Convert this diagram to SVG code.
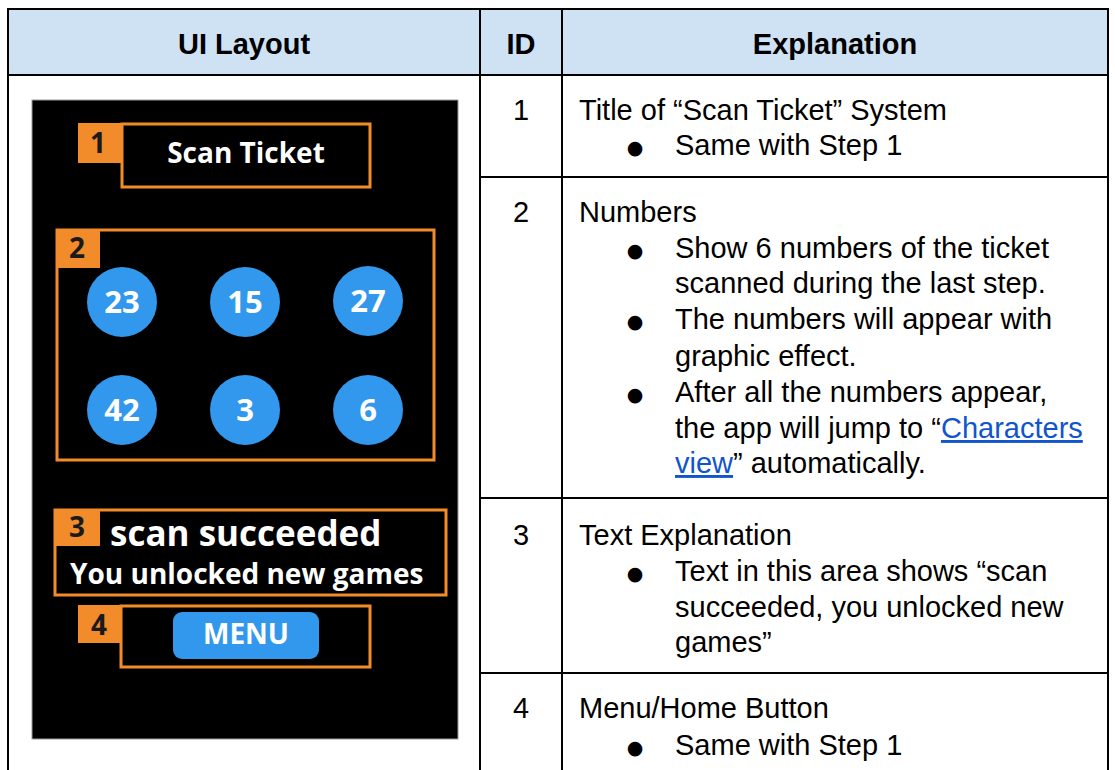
<svg xmlns="http://www.w3.org/2000/svg" width="1115" height="770" viewBox="0 0 1115 770">
<style>
.cell{font-family:"Liberation Sans",Arial,sans-serif;font-size:29px;fill:#000}
.hd{font-family:"Liberation Sans",Arial,sans-serif;font-size:29px;font-weight:bold;fill:#000;text-anchor:middle}
.id{text-anchor:middle}
.bul{font-family:"DejaVu Sans",sans-serif;font-size:19px;fill:#000;text-anchor:middle}
.link{fill:#1155cc;text-decoration:underline}
.ui{font-family:"Open Sans","DejaVu Sans",sans-serif;font-weight:bold;fill:#fff}
.lbl{fill:#f28b2a}
.lbltxt{font-family:"Open Sans","DejaVu Sans",sans-serif;font-weight:bold;font-size:28px;fill:#1a1a1a;text-anchor:middle}
.box{fill:none;stroke:#f28b2a;stroke-width:3}
.ball{fill:#3198ee}
.num{font-family:"Open Sans","DejaVu Sans",sans-serif;font-weight:bold;font-size:31px;fill:#fff;text-anchor:middle}
.grid{stroke:#000;stroke-width:2;fill:none}
</style>
<rect width="1115" height="770" fill="#fff"/>
<g id="table">
  <rect x="8" y="9" width="1100" height="66" fill="#cfe2f3"/>
  <path class="grid" d="M8,770 V9 H1108 V770 M8,75 H1108 M480,9 V770 M562,9 V770 M480,177 H1108 M480,498 H1108 M480,673 H1108"/>
  <text class="hd" x="244" y="54">UI Layout</text>
  <text class="hd" x="521" y="54">ID</text>
  <text class="hd" x="835" y="54">Explanation</text>
</g>
<g id="panel">
  <rect x="32" y="100" width="426" height="639" fill="#000" stroke="#9a9a9a" stroke-width="1"/>
</g>
<g id="ui-1">
  <rect class="box" x="122" y="124" width="248" height="63"/>
  <rect class="lbl" x="78" y="123" width="44" height="40"/>
  <text class="lbltxt" x="98" y="153">1</text>
  <text class="ui" x="246" y="163" font-size="28" text-anchor="middle">Scan Ticket</text>
</g>
<g id="ui-2">
  <rect class="box" x="57" y="230" width="377" height="230"/>
  <rect class="lbl" x="56" y="229" width="44" height="39"/>
  <text class="lbltxt" x="77" y="258">2</text>
  <circle class="ball" cx="122" cy="302" r="35"/>
  <circle class="ball" cx="245" cy="302" r="35"/>
  <circle class="ball" cx="368" cy="301" r="35"/>
  <circle class="ball" cx="122" cy="410" r="35"/>
  <circle class="ball" cx="245" cy="410" r="35"/>
  <circle class="ball" cx="368" cy="410" r="35"/>
  <text class="num" x="122" y="313">23</text>
  <text class="num" x="245" y="313">15</text>
  <text class="num" x="368" y="312">27</text>
  <text class="num" x="122" y="421">42</text>
  <text class="num" x="245" y="421">3</text>
  <text class="num" x="368" y="421">6</text>
</g>
<g id="ui-3">
  <rect class="box" x="55" y="510" width="391" height="85"/>
  <rect class="lbl" x="54" y="509" width="46" height="37"/>
  <text class="lbltxt" x="77" y="537">3</text>
  <text class="ui" x="110" y="546" font-size="35">scan succeeded</text>
  <text class="ui" x="70" y="584" font-size="28">You unlocked new games</text>
</g>
<g id="ui-4">
  <rect class="box" x="121" y="606" width="249" height="61"/>
  <rect class="lbl" x="78" y="605" width="43" height="38"/>
  <text class="lbltxt" x="99" y="635">4</text>
  <rect class="ball" x="173" y="612" width="146" height="47" rx="9"/>
  <text class="ui" x="246" y="644" font-size="28" text-anchor="middle">MENU</text>
</g>
<g id="row-1">
  <text class="cell id" x="521" y="120">1</text>
  <text class="cell" x="579" y="120">Title of “Scan Ticket” System</text>
  <text class="bul" x="635" y="154">●</text>
  <text class="cell" x="675" y="155">Same with Step 1</text>
</g>
<g id="row-2">
  <text class="cell id" x="521" y="222">2</text>
  <text class="cell" x="579" y="222">Numbers</text>
  <text class="bul" x="635" y="257">●</text>
  <text class="cell" x="675" y="258">Show 6 numbers of the ticket</text>
  <text class="cell" x="675" y="293">scanned during the last step.</text>
  <text class="bul" x="635" y="328">●</text>
  <text class="cell" x="675" y="329">The numbers will appear with</text>
  <text class="cell" x="675" y="366">graphic effect.</text>
  <text class="bul" x="635" y="401">●</text>
  <text class="cell" x="675" y="402">After all the numbers appear,</text>
  <text class="cell" x="675" y="438">the app will jump to “<tspan class="link">Characters</tspan></text>
  <text class="cell" x="675" y="473"><tspan class="link">view</tspan>” automatically.</text>
</g>
<g id="row-3">
  <text class="cell id" x="521" y="545">3</text>
  <text class="cell" x="579" y="545">Text Explanation</text>
  <text class="bul" x="635" y="580">●</text>
  <text class="cell" x="675" y="581">Text in this area shows “scan</text>
  <text class="cell" x="675" y="617">succeeded, you unlocked new</text>
  <text class="cell" x="675" y="652">games”</text>
</g>
<g id="row-4">
  <text class="cell id" x="521" y="718">4</text>
  <text class="cell" x="579" y="718">Menu/Home Button</text>
  <text class="bul" x="635" y="754">●</text>
  <text class="cell" x="675" y="755">Same with Step 1</text>
</g>
<g id="connectors"/>
</svg>
